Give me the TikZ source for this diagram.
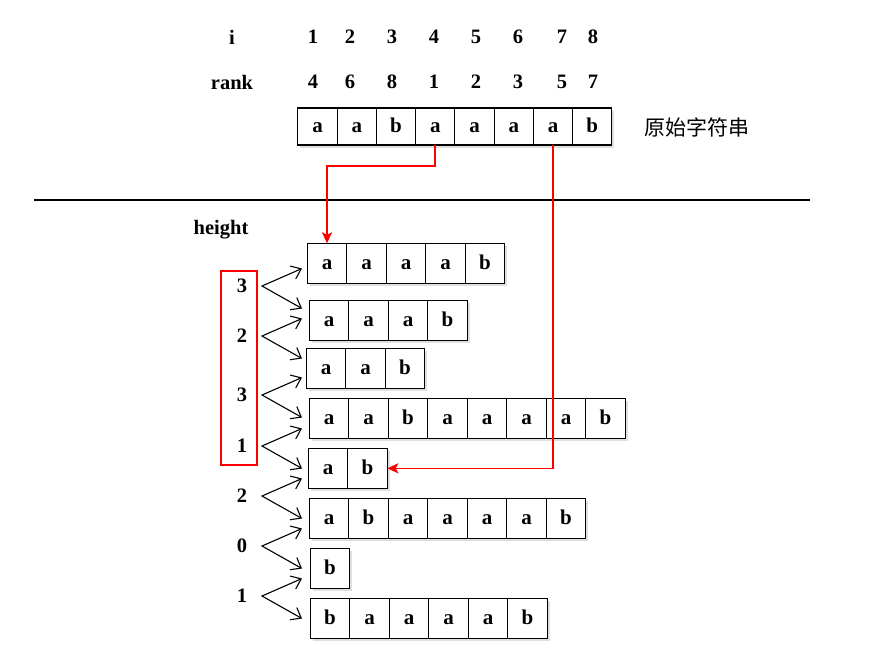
\documentclass[tikz,border=0pt]{standalone}
\usepackage{fontspec}
\setmainfont{Liberation Serif}
\newfontfamily\cjk{Noto Sans CJK SC}
\usetikzlibrary{arrows.meta,shadows,positioning,calc}

\begin{document}
\begin{tikzpicture}[x=1pt, y=-1pt,
    lbl/.style={font=\fontsize{20.5}{22}\selectfont\bfseries, inner sep=0pt},
    cell/.style={rectangle, draw, fill=white, line width=1.1pt, inner sep=0pt, outer sep=0pt,
        minimum width=39.5pt, minimum height=40pt, text height=12pt, text depth=0pt,
        font=\fontsize{21}{22}\selectfont\bfseries,
        drop shadow={opacity=0.25, shadow xshift=2.5pt, shadow yshift=-2.5pt}},
    topcell/.style={cell, minimum width=39.25pt, minimum height=37pt},
    harrow/.style={{Straight Barb[length=9pt, width=14pt]}-{Straight Barb[length=9pt, width=14pt]}, line width=1.1pt},
    redarrow/.style={-{Stealth[length=11pt, width=10pt, inset=2.5pt]}, red, line width=1.6pt}]
    \useasboundingbox (0,0) rectangle (882,670);

    % Index and rank rows
    \node[lbl] (ilabel) at (232,37) {i};
    \node[lbl] (ranklabel) at (232,82) {rank};
    \foreach \x/\i/\r in {313/1/4, 350/2/6, 392/3/8, 434/4/1, 476/5/2, 518/6/3, 562/7/5, 593/8/7} {
        \node[lbl] (i\i) at (\x,37) {\i};
        \node[lbl] (rank\i) at (\x,82) {\r};
    }

    % Original string
    \foreach \ch [count=\k] in {a,a,b,a,a,a,a,b}
        \node[topcell] (t\k) at (297.875+\k*39.25-19.625,126.5) {\ch};
    \node[font=\cjk\fontsize{21}{22}\selectfont] (orig) at (697,127) {原始字符串};

    % Separator
    \draw[line width=1.1pt] (34,200) -- (810,200);

    % Sorted suffixes
    \node[lbl] (height) at (221,230) {height};
    \foreach \r/\x/\y/\s in {1/307.25/263.3/{a,a,a,a,b}, 2/309.3/320.3/{a,a,a,b},
                             3/306.3/368.3/{a,a,b}, 4/309.3/418.3/{a,a,b,a,a,a,a,b},
                             5/308.3/468.3/{a,b}, 6/309.3/518.3/{a,b,a,a,a,a,b},
                             7/310.3/568.3/{b}, 8/310.3/618.3/{b,a,a,a,a,b}} {
        \foreach \ch [count=\k] in \s
            \node[cell] (r\r-\k) at (\x+\k*39.5-19.75,\y) {\ch};
    }

    % Height values
    \foreach \n/\y/\v in {1/286/3, 2/336/2, 3/395/3, 4/446/1, 5/496/2, 6/546/0, 7/596/1} {
        \node[lbl] (h\n) at (242,\y) {\v};
        \coordinate (p\n) at (262,\y);
        \coordinate (u\n) at (302,\y-17.5);
        \coordinate (d\n) at (302,\y+22.5);
        \draw[harrow] (u\n) -- (p\n) -- (d\n);
    }
    \draw[red, line width=1.6pt] (221,271) rectangle (257,465);

    % Links to the original string
    \draw[redarrow] (t4.south) -- ++(0,21) -| (r1-1.north);
    \draw[redarrow] (t7.south) |- (r5-2.east);
\end{tikzpicture}
\end{document}
